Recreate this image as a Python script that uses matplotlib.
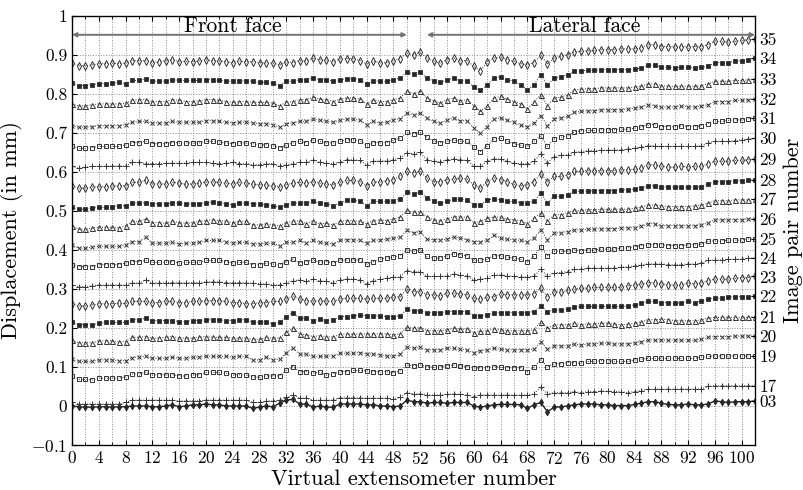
import numpy as np
import matplotlib
matplotlib.use("Agg")
import matplotlib.pyplot as plt
from matplotlib.ticker import MultipleLocator

plt.rcParams['font.family'] = 'serif'
plt.rcParams['font.serif'] = ['cmr10', 'DejaVu Serif']
plt.rcParams['mathtext.fontset'] = 'cm'
plt.rcParams['axes.formatter.use_mathtext'] = True

# ---- data (displacement in thousandths of mm), extensometers 0..102 ----
ext = list(range(103))

s35 = [879,872,872,874,877,877,879,877,879,885,885,885,880,882,885,887,882,883,882,884,887,885,884,882,880,884,882,882,880,879,879,873,882,880,885,884,891,887,887,882,889,890,890,885,
       876,883,880,879,885,890,904,900,906,891,883,879,887,891,885,885,870,859,882,891,894,887,883,877,874,880,898,877,891,896,900,907,909,910,911,913,913,
       913,915,915,915,917,926,926,921,921,920,921,920,921,921,926,934,934,932,934,937,938,941]
s34 = [827,821,821,823,826,826,827,829,826,834,834,838,832,832,832,836,834,834,834,834,836,836,834,833,832,833,833,832,829,829,827,821,832,832,836,836,840,836,836,832,836,838,838,836,
       825,833,832,832,836,840,855,851,855,840,833,829,836,840,833,833,817,809,823,840,843,836,832,823,810,823,849,823,840,843,849,857,859,860,860,862,862,
       862,862,862,863,866,873,873,868,868,866,868,868,866,868,870,880,880,880,883,885,887,891]
s33 = [774,769,769,772,774,774,774,774,776,783,785,785,780,780,780,785,783,780,780,782,785,785,783,780,778,780,780,778,778,778,776,769,778,780,785,785,791,786,785,780,786,789,789,786,
       774,785,780,780,785,789,806,800,806,789,782,776,785,789,782,785,768,755,769,789,793,786,780,774,761,780,797,769,789,791,797,809,812,813,813,815,815,
       815,815,815,817,819,825,825,821,819,819,819,819,819,821,825,832,832,832,834,834,836,838]
s32 = [718,714,714,716,718,718,718,718,721,727,729,729,725,725,725,729,727,727,727,727,731,731,729,727,725,727,727,725,723,723,721,714,723,725,729,729,735,732,729,727,732,735,735,732,
       721,729,725,727,733,736,750,746,750,738,729,725,733,738,731,731,712,699,716,736,738,732,727,719,716,725,744,718,736,738,742,752,755,756,756,759,759,
       759,759,761,763,766,772,769,766,766,766,769,766,766,768,772,780,780,780,783,783,785,787]
s31 = [665,660,660,662,665,665,665,665,669,675,675,678,672,672,672,675,674,674,674,674,678,678,676,674,672,674,674,672,669,669,667,661,669,674,678,675,682,678,675,674,678,682,682,680,
       668,675,675,675,682,686,701,697,701,689,678,675,678,682,678,678,663,652,667,684,686,678,672,668,665,678,692,665,684,688,692,702,705,706,706,708,708,
       708,709,709,712,715,721,721,716,716,715,718,716,716,718,723,729,729,732,733,733,736,738]
s30 = [614,609,612,614,614,614,615,615,615,624,624,621,621,621,622,622,622,622,624,624,624,622,621,622,624,621,621,618,618,621,621,614,618,621,624,624,631,624,622,621,624,631,631,629,
       618,627,628,628,631,635,648,646,650,631,627,625,631,633,631,629,615,614,627,633,633,627,622,621,620,627,646,622,639,642,644,650,652,654,654,655,655,
       656,656,658,661,663,667,667,665,665,665,665,665,665,667,674,678,678,678,680,682,684,686]
s29 = [564,558,558,561,562,562,564,564,564,573,573,578,569,569,569,573,571,568,569,571,574,574,573,571,569,573,571,568,567,567,564,561,567,571,573,571,575,571,569,567,573,578,578,575,
       564,573,575,577,580,588,601,597,601,584,575,575,580,581,584,581,567,558,575,584,580,575,568,564,567,575,595,575,588,588,592,601,601,603,603,603,603,
       603,605,605,607,609,618,618,614,612,612,614,612,614,614,621,627,627,627,629,629,631,633]
s28 = [509,504,504,507,509,509,511,513,513,520,520,521,518,518,518,520,520,518,518,518,521,522,521,518,515,520,520,518,517,515,513,509,515,520,520,520,524,520,518,513,520,527,527,524,
       513,524,524,524,526,530,547,544,547,533,524,520,524,530,530,528,515,515,528,530,528,524,524,521,521,524,545,521,537,537,541,550,550,551,551,552,552,
       552,554,554,556,558,564,564,561,561,561,561,561,561,562,569,575,575,575,577,577,578,580]
s27 = [462,453,453,456,458,458,458,456,462,473,473,479,470,470,468,473,470,468,470,473,475,477,475,473,470,473,473,464,464,467,464,462,470,473,475,467,475,467,468,464,473,475,475,473,
       467,475,477,475,479,484,501,496,498,485,477,475,479,485,484,484,470,473,481,484,484,479,477,475,467,481,494,473,490,490,494,501,501,503,503,504,504,
       504,504,504,507,509,515,515,513,511,511,511,511,513,515,520,526,526,526,528,528,528,530]
s26 = [413,404,404,407,409,409,409,409,413,421,421,433,417,417,417,419,415,417,417,419,424,424,424,421,417,419,419,415,415,417,417,410,419,419,424,417,424,419,417,415,424,426,426,424,
       417,424,426,427,430,432,450,444,447,427,426,426,427,433,430,426,421,421,424,437,430,427,426,424,421,430,451,426,443,444,447,451,451,453,453,454,454,
       454,456,456,457,460,467,467,462,462,462,462,462,462,464,470,477,477,477,477,477,479,479]
s25 = [362,357,357,357,362,362,362,362,366,370,370,373,368,368,368,370,366,368,368,368,373,373,373,370,366,368,368,362,362,366,364,362,370,376,366,370,374,368,370,366,374,374,374,374,
       364,370,376,379,381,385,400,396,400,383,379,379,385,390,387,385,373,374,376,385,385,381,379,376,368,385,407,385,396,396,396,400,398,400,400,402,402,
       402,405,405,408,411,413,413,413,411,411,411,413,413,415,422,423,423,425,425,425,428,428]
s24 = [310,306,306,308,310,310,310,310,310,315,315,323,315,315,316,316,316,316,316,316,318,318,318,316,316,316,315,315,313,313,310,310,316,321,323,319,325,321,319,316,323,325,325,323,
       313,321,325,327,330,330,347,344,344,332,332,332,333,338,336,333,323,325,327,336,336,333,332,330,330,333,350,332,342,342,344,350,350,353,353,353,353,
       353,356,356,359,362,364,364,364,362,362,362,364,364,366,373,374,374,376,376,376,379,379]
s23 = [262,256,256,259,262,262,262,263,263,268,268,268,265,265,268,268,265,265,268,268,270,270,270,268,265,265,262,262,265,265,268,268,274,282,274,270,268,270,268,268,274,276,276,276,
       274,276,276,276,279,280,299,293,293,285,285,282,289,289,287,285,276,274,279,280,287,285,285,285,285,287,302,279,293,291,296,299,302,302,304,304,304,
       304,304,308,310,312,316,316,313,310,310,310,315,313,316,321,325,325,325,327,329,329,332]
s22 = [214,208,208,208,212,214,214,214,214,221,221,225,219,219,219,219,216,216,219,219,221,221,221,219,219,221,221,214,214,216,210,214,229,239,225,225,219,222,219,221,229,229,231,233,
       231,231,231,229,229,231,248,244,244,239,239,239,242,242,242,242,231,231,233,238,239,239,239,239,239,242,256,242,246,246,248,253,255,255,255,255,255,
       255,255,256,259,263,268,268,265,265,263,265,268,265,269,274,276,276,279,280,280,280,282]
s21 = [168,162,162,162,167,167,167,164,165,176,176,178,174,174,176,178,174,174,174,176,178,176,176,176,174,174,174,171,171,176,174,174,189,199,185,182,178,180,178,176,184,184,184,184,
       185,184,185,185,182,185,202,199,201,193,193,193,195,199,197,197,188,191,193,197,195,193,193,193,193,195,216,199,208,208,208,212,208,210,210,212,212,
       210,208,209,212,216,221,221,222,221,219,218,219,218,221,225,227,227,227,227,227,227,229]
s20 = [120,114,114,114,118,118,118,116,116,124,125,127,122,122,122,125,122,122,125,125,127,127,127,127,125,127,127,118,118,125,118,120,137,148,133,133,127,127,128,128,135,135,135,137,
       133,133,131,128,128,132,152,148,150,144,144,144,148,148,145,144,137,142,144,148,145,144,144,144,144,145,165,145,154,154,154,159,156,159,159,161,161,
       159,159,159,162,165,169,169,169,169,169,169,169,168,171,176,178,178,178,179,179,179,179]
s19 = [77,68,68,67,71,71,71,71,75,82,82,86,80,80,80,80,77,77,80,80,86,86,86,84,80,80,80,74,74,77,77,77,91,101,88,88,84,86,80,82,88,88,91,91,
       90,88,88,88,85,90,105,103,105,101,99,101,103,105,103,101,97,98,98,101,99,98,98,98,88,99,118,101,108,108,111,111,109,114,114,116,116,
       114,114,114,118,120,122,122,122,122,122,122,122,122,125,127,128,128,128,128,128,128,128]
s17 = [11,5,5,5,5,5,5,5,9,15,15,15,15,15,15,15,13,13,13,13,15,15,15,15,15,15,15,9,9,13,13,15,22,28,20,20,15,15,15,15,21,21,21,21,
       20,20,20,20,17,22,34,31,31,28,28,28,30,31,30,28,24,28,28,28,28,28,28,28,28,31,48,31,34,34,34,37,34,37,37,38,38,
       37,37,34,37,39,43,43,43,43,43,43,43,43,44,50,52,52,52,52,52,52,52]
s03 = [0,-2,-3,-3,-2,-2,-3,-2,-2,0,0,0,-2,-2,0,3,-2,0,3,3,5,3,3,0,0,0,0,-6,-3,0,-2,7,15,17,5,5,-3,0,-3,-3,5,5,5,5,
       3,3,0,0,-2,0,15,11,11,7,9,9,7,9,9,9,0,-3,0,3,4,4,4,3,-6,3,9,-15,-3,-2,0,3,5,5,5,3,3,
       1,1,1,4,7,11,11,7,4,3,3,5,3,3,5,13,11,9,11,11,11,13]

pair_labels = ['03', '17', '19', '20', '21', '22', '23', '24', '25', '26',
               '27', '28', '29', '30', '31', '32', '33', '34', '35']
series_list = [s03, s17, s19, s20, s21, s22, s23, s24, s25, s26,
               s27, s28, s29, s30, s31, s32, s33, s34, s35]

face_names = ['Front face', 'Lateral face']
face_spans = [(0, 50), (53, 102)]

yticks = [-0.1, 0, 0.1, 0.2, 0.3, 0.4, 0.5, 0.6, 0.7, 0.8, 0.9, 1]
ytick_labels = ['$-0.1$', '0', '0.1', '0.2', '0.3', '0.4', '0.5', '0.6', '0.7', '0.8', '0.9', '1']

# ---- styling ----
marker_cycle = [
    dict(marker='+', ms=3.8, mew=0.7, mfc='none'),
    dict(marker='s', ms=3.2, mew=0.7, mfc='none'),
    dict(marker='x', ms=2.9, mew=0.7, mfc='none'),
    dict(marker='^', ms=3.6, mew=0.7, mfc='none'),
    dict(marker='s', ms=2.9, mew=0.6, mfc='0.15'),
    dict(marker='d', ms=3.6, mew=0.7, mfc='none'),
]

fig = plt.figure(figsize=(8.04, 4.90), dpi=100)
ax = fig.add_axes([0.0896, 0.0918, 0.8495, 0.8762])

x = np.array(ext)
for i, (lab, s) in enumerate(zip(pair_labels, series_list)):
    y = np.array(s) / 1000.0
    if i == 0:
        ax.plot(x, y, linestyle='-', color='0.15', lw=1.0, marker='d', ms=3.4,
                mfc='0.15', mec='0.15', mew=0.6, zorder=3)
    else:
        st = marker_cycle[(i - 1) % 6]
        ax.plot(x, y, linestyle=':', color='0.2', lw=0.7, mec='0.2', zorder=3, **st)

ax.set_xlim(0, 102)
ax.set_ylim(-0.1, 1)
ax.xaxis.set_major_locator(MultipleLocator(4))
ax.xaxis.set_minor_locator(MultipleLocator(2))
ax.set_yticks(yticks)
ax.set_yticklabels(ytick_labels)
ax.grid(True, which='both', axis='x', linestyle=':', color='0.55', lw=0.7)
ax.grid(True, which='major', axis='y', linestyle=':', color='0.55', lw=0.7)
ax.tick_params(axis='both', which='both', direction='in', top=True, labelsize=12.5)
ax.tick_params(axis='x', which='minor', length=2)
ax.tick_params(axis='y', right=False)
ax.set_axisbelow(True)

for sp in ax.spines.values():
    sp.set_linewidth(0.9)

ax.set_xlabel('Virtual extensometer number', fontsize=16, labelpad=2)
ax.set_ylabel('Displacement (in mm)', fontsize=16, labelpad=6)

# Face arrows and labels
for name, (a, b) in zip(face_names, face_spans):
    ax.annotate('', xy=(b, 0.951), xytext=(a, 0.951),
                arrowprops=dict(arrowstyle='<|-|>', color='0.45', lw=1.4,
                                mutation_scale=6, shrinkA=0, shrinkB=0), zorder=4)
    ax.text((a + b) / 2 - 1, 0.957, name, fontsize=15.5, ha='center', va='baseline', zorder=5)

# Right axis with image pair numbers at final values
ax2 = ax.twinx()
ax2.set_ylim(-0.1, 1)
ends = [s[-1] / 1000.0 for s in series_list]
ax2.set_yticks(ends)
ax2.set_yticklabels(pair_labels)
ax2.tick_params(axis='y', direction='in', length=3, width=0.8, pad=3, labelsize=12.5)
ax2.set_ylabel('Image pair number', fontsize=16, labelpad=5)

fig.savefig('out.png', dpi=100)
